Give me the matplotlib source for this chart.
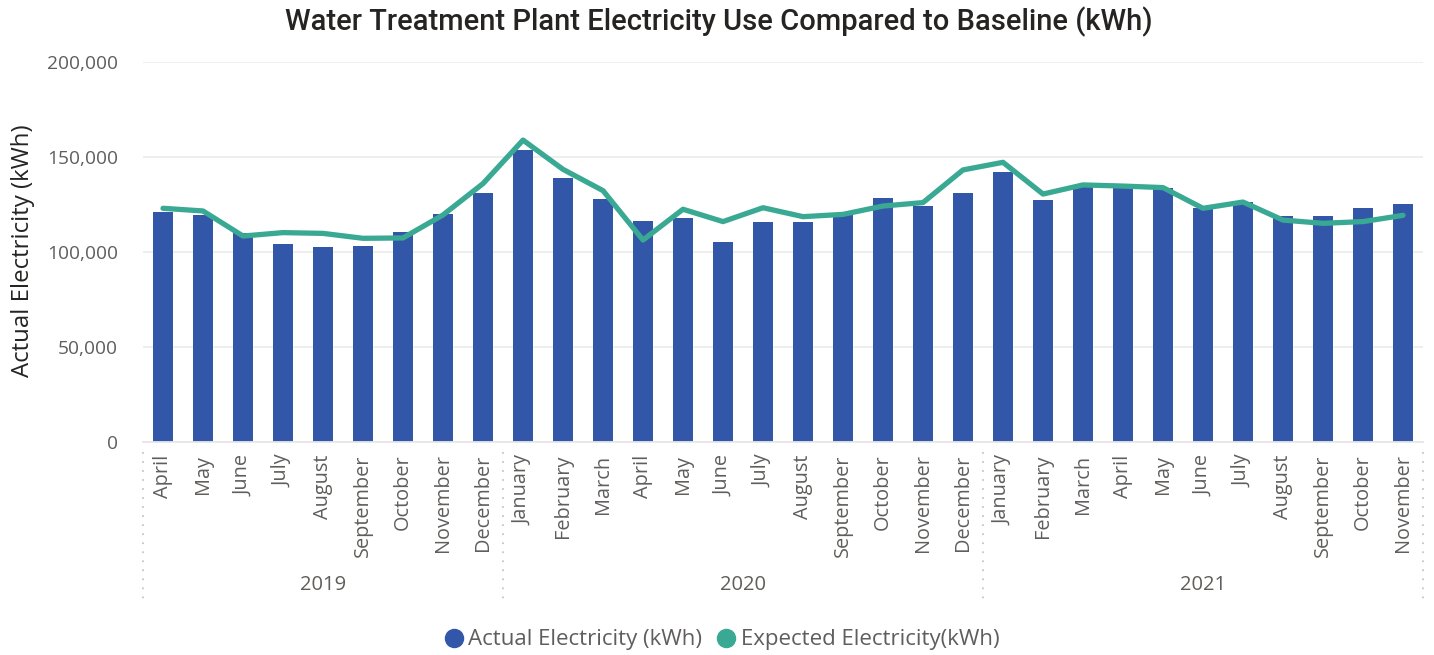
import matplotlib
matplotlib.use("Agg")
import matplotlib.pyplot as plt
from matplotlib.lines import Line2D
from matplotlib.ticker import FuncFormatter, MultipleLocator
import matplotlib.transforms as mtransforms

plt.rcParams['font.family'] = ['Open Sans', 'DejaVu Sans']

months = ["April", "May", "June", "July", "August", "September", "October", "November", "December",
          "January", "February", "March", "April", "May", "June", "July", "August", "September",
          "October", "November", "December",
          "January", "February", "March", "April", "May", "June", "July", "August", "September",
          "October", "November"]
years = ["2019", "2020", "2021"]
months_per_year = [9, 12, 11]

actual_kwh = [121000, 119500, 109800, 104200, 102600, 103200, 110500, 120000, 131000,
              153700, 139000, 127900, 116300, 117900, 105300, 115800, 115800, 119500,
              128400, 124200, 131000,
              142000, 127400, 134000, 134000, 133700, 123200, 126300, 118900, 118900,
              123200, 125300]
expected_kwh = [123000, 121600, 108400, 110200, 109800, 107200, 107400, 119500, 136000,
                158900, 143500, 132300, 106300, 122500, 116000, 123300, 118600, 119800,
                124200, 126000, 143200,
                147200, 130500, 135300, 134700, 133900, 123000, 126300, 116800, 115100,
                116000, 119300]

BAR_COLOR = "#3257A8"
LINE_COLOR = "#3AA993"
TEXT_GRAY = "#605E5C"
DARK = "#252423"

W, H = 1434, 655
fig = plt.figure(figsize=(W / 100, H / 100), dpi=100)
ax = fig.add_axes([143 / W, 1 - 442 / H, 1280 / W, 380 / H])

x = list(range(len(months)))
ax.bar(x, actual_kwh, width=0.5, color=BAR_COLOR, zorder=2)
ax.plot(x, expected_kwh, color=LINE_COLOR, linewidth=3.8, zorder=3,
        solid_joinstyle='round', solid_capstyle='round')

ax.set_xlim(-0.5, len(months) - 0.5)
ax.set_ylim(0, 200000)
ax.yaxis.set_major_locator(MultipleLocator(50000))
ax.yaxis.set_major_formatter(FuncFormatter(lambda v, p: f"{int(v):,}"))
ax.grid(axis='y', color="#EDEDED", linewidth=1.3, zorder=0)
ax.set_axisbelow(True)

for s in ["top", "right", "left"]:
    ax.spines[s].set_visible(False)
ax.spines["bottom"].set_color("#E6E6E6")
ax.spines["bottom"].set_linewidth(1.3)

ax.tick_params(axis='y', length=0, pad=18, labelsize=13.8, labelcolor=TEXT_GRAY)
ax.set_xticks(x)
ax.set_xticklabels(months, rotation=90, fontsize=14.3, color=TEXT_GRAY)
ax.tick_params(axis='x', length=0, pad=9)

fig.text(23 / W, 1 - 251 / H, "Actual Electricity (kWh)", rotation=90,
         ha='center', va='center', fontsize=17.3, color=DARK)

# year grouping: dotted separators and centred year labels
trans = mtransforms.blended_transform_factory(ax.transData, ax.transAxes)
start = 0
bounds = [-0.5]
for yr, n in zip(years, months_per_year):
    center = start + (n - 1) / 2
    ax.text(center, -0.376, yr, transform=trans, ha='center', va='center',
            fontsize=14.5, color=TEXT_GRAY)
    start += n
    bounds.append(start - 0.5)
for b in bounds:
    ax.plot([b, b], [-0.026, -0.416], transform=trans, clip_on=False,
            color="#C8C6C4", linewidth=1.3, linestyle=(0, (1, 4)))

fig.text(719 / W, 1 - 22 / H, "Water Treatment Plant Electricity Use Compared to Baseline (kWh)",
         ha='center', va='center', fontsize=21, color=DARK, fontweight='medium',
         family=['Roboto', 'DejaVu Sans'])

handles = [Line2D([], [], marker='o', linestyle='none', markersize=13,
                  markerfacecolor=BAR_COLOR, markeredgecolor=BAR_COLOR),
           Line2D([], [], marker='o', linestyle='none', markersize=13,
                  markerfacecolor=LINE_COLOR, markeredgecolor=LINE_COLOR)]
leg = fig.legend(handles, ["Actual Electricity (kWh)", "Expected Electricity(kWh)"],
                 loc='center', bbox_to_anchor=(721 / W, 1 - 640 / H), ncol=2, frameon=False,
                 handletextpad=0.15, columnspacing=0.6, handlelength=1.0,
                 prop={'size': 16})
for t in leg.get_texts():
    t.set_color(TEXT_GRAY)

fig.savefig("out.png", dpi=100, facecolor="white")
